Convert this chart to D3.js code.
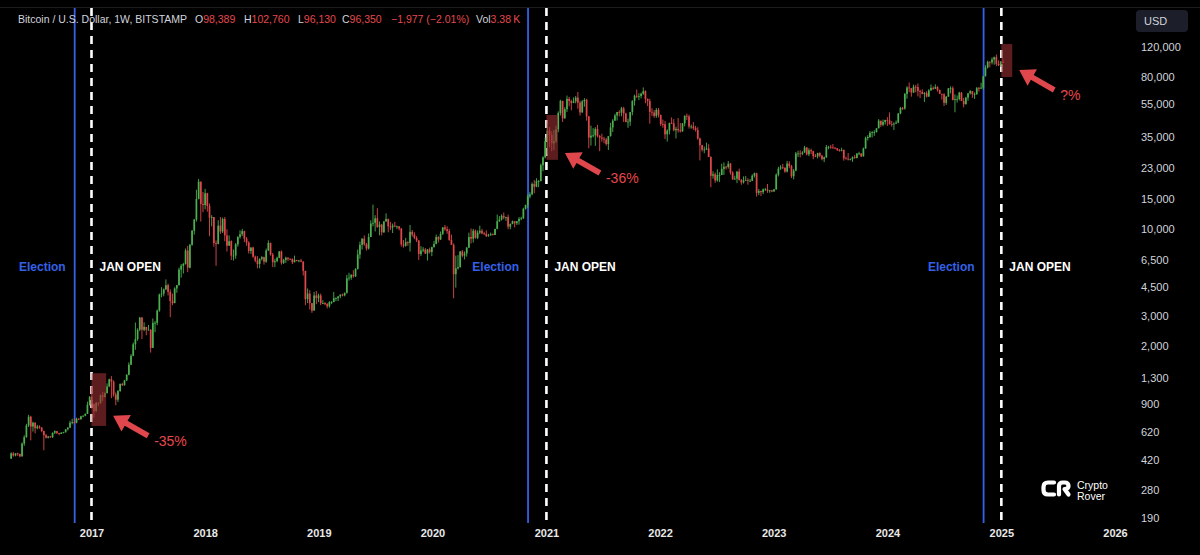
<!DOCTYPE html>
<html>
<head>
<meta charset="utf-8">
<title>Bitcoin weekly - election vs Jan open</title>
<script src="https://cdn.jsdelivr.net/npm/d3@7"></script>
<style>
  html, body { margin: 0; padding: 0; background: #000; }
  svg { display: block; }
</style>
</head>
<body>
<script>
// BTC/USD weekly candles (Bitstamp), first bar = week of 18 Apr 2016
const firstWeek = new Date(2016, 3, 18);
const firstOpen = 428;

const closes = [
  /*2016*/ 460,447,460,457,442,527,575,675,760,665,700,650,665,655,625,590,570,580,575,610,625,607,600,612,615,640,655,700,705,700,740,735,765,770,790,895,1000,
  /*2017*/ 905,820,920,915,1020,995,1050,1150,1270,1230,1030,960,1080,1190,1170,1250,1350,1550,1750,2050,2200,2500,2950,2500,2600,2500,2500,1950,2750,2750,3250,4050,4100,4350,4600,4200,3700,3600,4400,4600,5700,6000,6150,7400,5850,8000,9700,11300,15000,19000,14000,13800,
  /*2018*/ 16200,13600,11600,11700,8200,8100,10400,9600,11400,9100,7900,8400,6900,6900,8050,8900,9250,9650,8700,8250,7350,7700,6800,6450,6150,6600,6750,6350,7400,8200,7000,6300,6400,6700,7300,6250,6500,6700,6600,6580,6300,6500,6420,6450,6350,5600,3800,4100,3600,3250,4000,3850,
  /*2019*/ 4000,3600,3600,3550,3450,3650,3650,3850,3850,3950,4050,4000,4150,5050,5100,5300,5200,5750,7000,8000,8700,8050,7600,8900,10700,10800,11500,10200,10550,9500,11000,11400,10300,10150,10400,10300,10300,10000,8050,7900,8300,8220,9550,9200,8800,8500,7050,7400,7500,7100,7500,7250,
  /*2020*/ 7750,8100,8900,8600,9300,10150,9900,9650,8550,8000,5350,5800,5900,7300,6900,7100,7700,8900,8700,9700,8800,9450,9700,9350,9300,9000,9100,9250,9150,9950,11050,11300,11900,11650,11700,10250,10650,11050,10750,11050,11400,11500,13100,13800,15500,15950,18400,17700,19150,19150,23800,26500,33000,
  /*2021*/ 38200,36000,32100,33100,38900,48600,57400,45200,51200,59000,57300,55800,57000,60000,56000,49000,57000,58250,46400,34700,35650,35800,39000,35500,34700,34200,33800,31800,35400,39900,43800,47000,49300,48900,51800,48300,43000,43200,49200,57400,61500,61300,61300,63300,65500,59000,57200,49400,48900,46700,50800,47300,
  /*2022*/ 41800,41700,36300,38200,42400,42200,38400,39100,38400,37800,42200,46800,46400,40400,40400,39500,38500,34300,31300,29400,29500,29900,26600,20600,21000,19300,20800,20800,22600,23300,23200,24300,21500,19550,19800,21800,19400,18800,19300,19400,19200,19200,20600,21300,16300,16700,16450,17100,17100,16750,16850,16600,
  /*2023*/ 17100,20900,22700,23100,22950,21800,24300,23500,20450,22100,27900,27950,27800,28300,30300,27600,29200,28800,26900,26850,28100,27100,25850,26500,30500,30600,30300,30250,30000,29250,29050,29300,26100,26000,25850,25850,26550,26250,27950,27950,26850,29900,34500,35000,37050,37350,37450,39450,43800,41350,43000,44200,
  /*2024*/ 43950,41750,41600,42000,42600,48300,52100,51700,63100,68900,68300,64300,69600,69350,65600,64900,63100,63900,60800,66200,68500,67750,69300,66600,63200,62700,55850,60800,68150,68250,58100,58700,58900,64200,57300,54850,59950,63600,65600,62800,62900,68350,67950,68750,80400,90600,97900,97250,101100,104300,95200,93700,98389,
  /*2025*/ 96350
];
const highs = [
  /*2016*/ 467,468,462,464,458,535,590,690,780,770,710,705,680,675,660,628,600,585,585,612,630,612,610,614,618,642,658,720,740,745,750,745,770,775,795,935,1005,
  /*2017*/ 1150,910,930,925,1030,1065,1060,1200,1280,1325,1250,1060,1095,1200,1210,1260,1360,1600,1790,2100,2760,2550,2980,2980,2770,2600,2670,2520,2920,2820,3300,4100,4480,4400,4980,4700,4350,4100,4470,4620,5850,6150,6250,7600,7880,8100,9800,11400,17000,19700,19000,16500,
  /*2018*/ 17200,16300,14100,12000,11700,8500,11200,11700,11600,11700,9900,9100,8500,7500,8200,9000,9750,9950,9700,8900,8400,7750,7800,6900,6850,6650,6850,6800,7600,8500,8250,7150,6600,6800,7350,7400,6600,6800,6750,6650,6650,6900,6520,6500,6600,6400,5600,4400,4300,3600,4200,4250,
  /*2019*/ 4100,4100,3750,3650,3600,3700,3700,4200,3900,3950,4050,4100,4150,5300,5450,5350,5650,5800,7500,8350,8750,9100,8200,9350,11200,13880,12000,13200,11000,10650,11100,12300,11450,10950,10700,10950,10400,10300,10050,8550,8800,8400,10500,9800,9500,9000,8500,7850,7750,7650,7550,7700,
  /*2020*/ 7800,8450,9200,9000,9600,10180,10500,10300,9950,9200,8150,6900,6950,7350,7450,7300,7750,9450,10000,9950,9850,9750,10400,9950,9550,9750,9300,9450,9350,9950,12100,11850,12150,12450,11750,12100,10700,11150,11050,11050,11700,11750,13300,13850,15950,16450,18800,19400,19900,19400,24300,26900,34700,
  /*2021*/ 41950,40100,37800,38500,40900,49700,58300,57500,52600,61700,60600,58400,60100,61300,64800,57500,58000,59600,59000,46700,40900,39500,40000,41300,36000,36600,35100,34600,35500,42500,44700,48100,49300,50500,52900,52900,48800,45000,49200,57800,62500,67000,63700,64300,69000,66300,59300,59100,51900,50600,52000,52100,
  /*2022*/ 47600,44400,43500,38900,42600,45800,44700,40300,45400,42400,42300,47000,48200,47500,41500,42900,40800,40000,34700,31400,30700,32400,31700,26900,21900,21500,22500,21600,24300,24700,23600,25200,24500,21900,20600,21900,22700,19700,20400,20500,19900,19700,21000,21500,21450,17200,16800,17300,17450,18400,16950,16950,
  /*2023*/ 17200,21250,23300,23800,24250,23150,25250,25100,23900,22600,28500,29000,29200,28800,31000,30500,30000,29800,29000,27700,28200,28400,27400,26800,31400,31000,31400,31800,30400,30000,29700,30200,29500,26800,28100,26100,26800,27400,27950,28600,28000,30300,35200,35900,37950,37900,38400,39500,44700,43500,44400,44300,
  /*2024*/ 45900,49000,43600,42800,43900,48600,52800,52900,64000,70100,73800,68500,71700,71300,72800,66900,67200,64700,65500,67400,71900,70000,72000,70200,67000,63300,63800,61300,68400,70000,70000,62700,61800,65000,64900,59800,60600,64100,66500,65600,64400,69400,69500,73600,80500,93400,99600,98800,104000,105200,108300,99900,99000,
  /*2025*/ 102760
];
const lows = [
  /*2016*/ 428,440,442,445,436,440,510,570,660,550,620,605,640,645,615,480,565,565,570,568,600,600,590,600,605,612,630,650,685,690,695,725,730,755,765,790,885,
  /*2017*/ 850,750,815,880,910,940,990,1045,1140,980,1000,890,930,1070,1160,1165,1240,1340,1540,1740,1900,2150,2450,2200,2450,2320,2480,1830,1950,2420,2660,3200,3900,3950,4300,4000,2970,3500,3600,4150,4580,5100,5400,6100,5500,5800,7900,9200,11000,14900,11000,12500,
  /*2018*/ 13000,12600,9000,10300,7800,6000,8050,9300,9400,8400,7300,7900,6500,6450,6600,7800,8700,9000,8300,7900,7100,7050,6700,6300,5800,5800,6450,6100,6250,7350,6900,5900,5900,6300,6650,6100,6150,6250,6400,6500,6150,6300,6380,6300,6300,5250,3500,3600,3300,3150,3250,3550,
  /*2019*/ 3650,3500,3550,3500,3350,3380,3550,3650,3700,3700,3850,3950,3950,4100,4900,4950,5100,5150,5700,6600,7500,7900,7400,7500,8900,10300,9600,10100,9100,9100,9400,11000,9500,9800,9400,10200,9950,9750,7800,7700,7800,7900,7300,8950,8650,8300,6500,6850,7250,7050,6450,7100,
  /*2020*/ 6850,7700,8050,8250,8550,9150,9700,9300,8450,8000,3850,4450,5700,5850,6750,6550,6800,7650,8150,8250,8700,8650,9250,9250,9150,8900,8950,9100,9100,9150,9900,10950,11150,11350,11100,9900,9900,10600,10150,10500,10550,11200,11400,12950,13250,15100,15800,16200,17600,17600,19050,21900,26100,
  /*2021*/ 27700,30400,28800,29300,32300,37400,47000,43000,45000,49300,53300,50400,55600,55500,51500,47000,48800,53000,43800,30000,31100,34800,31000,34800,28800,32800,32100,31100,29300,35200,37500,43700,43900,46400,46500,43000,42800,39700,40800,47100,53800,59700,58000,59400,62300,55600,53400,42000,46700,45500,45500,45700,
  /*2022*/ 40700,39700,34000,32900,36300,41800,37900,34300,37200,37200,37600,40500,44200,39300,39200,38600,37700,33700,25400,28700,28000,29300,26600,17600,19800,18700,19000,18900,20800,20800,22400,22700,20900,19550,19550,18600,19300,18200,18500,19300,18200,18900,19200,20100,15500,15800,15600,16000,16750,16300,16300,16450,
  /*2023*/ 16550,17000,20400,22300,22550,21450,21550,22800,19950,19600,21900,26600,26500,27300,28200,27200,26900,27700,25800,26550,26100,26500,25400,24800,26300,29600,29800,29900,29600,28900,28650,28750,25300,25800,25400,25400,24900,26000,26100,27300,26550,26800,29800,33400,34500,34800,35600,37200,39400,40200,40600,41500,
  /*2024*/ 40750,41500,40300,38500,41900,42300,47800,50600,50900,59100,64600,60800,64100,64500,61000,59600,62800,56500,60200,60800,66000,66700,67600,65100,63200,58400,53500,54300,60600,63500,57800,49100,56100,57800,57200,52550,54600,57500,62700,59800,58900,62400,65200,67500,66800,80200,89400,90800,94500,94200,92300,92500,91200,
  /*2025*/ 96130
];

const yTicks = [120000, 80000, 55000, 35000, 23000, 15000, 10000, 6500, 4500, 3000, 2000, 1300, 900, 620, 420, 280, 190];
const yearTicks = [2017, 2018, 2019, 2020, 2021, 2022, 2023, 2024, 2025, 2026];
const electionDays = [new Date(2016, 10, 8), new Date(2020, 10, 3), new Date(2024, 10, 5)];
const janOpens = [new Date(2017, 0, 1), new Date(2021, 0, 1), new Date(2025, 0, 1)];
const drawdowns = [
  {start: new Date(2017, 0, 1), end: new Date(2017, 1, 17), top: 1380, bottom: 670, pointAt: 770, label: "-35%"},
  {start: new Date(2021, 0, 1), end: new Date(2021, 1, 7), top: 47300, bottom: 25600, pointAt: 28100, label: "-36%"},
  {start: new Date(2025, 0, 1), end: new Date(2025, 1, 5), top: 125000, bottom: 79600, pointAt: 87600, label: "?%"}
];
const headerItems = [
  [["Bitcoin / U.S. Dollar, 1W, BITSTAMP", 0]],
  [["O", 0], ["98,389", 1]],
  [["H", 0], ["102,760", 1]],
  [["L", 0], ["96,130", 1]],
  [["C", 0], ["96,350", 1]],
  [["\u22121,977 (\u22122.01%)", 1]],
  [["Vol", 0], ["3.38\u2009K", 1]]
];

const W = 1200, H = 555;
const font = "'Liberation Sans', Arial, sans-serif";
const up = "#4caf50", down = "#e0474c", blue = "#3560e8", txt = "#d1d4dc", redTxt = "#e5484d";

const svg = d3.select("body").append("svg")
    .attr("width", W).attr("height", H)
    .style("font-family", font);
svg.append("rect").attr("width", W).attr("height", H).attr("fill", "#000");
svg.append("line").attr("x1", 0).attr("x2", W).attr("y1", 7.5).attr("y2", 7.5)
    .attr("stroke", "#1c1c1c");

const x = d3.scaleTime()
    .domain([new Date(2017, 0, 1), new Date(2026, 0, 1)])
    .range([91.5, 1115]);
const y = d3.scaleLog()
    .domain([190, 120000])
    .range([518, 47]);

const bars = closes.map((c, i) => ({
  date: d3.timeDay.offset(firstWeek, 7 * i),
  open: i ? closes[i - 1] : firstOpen,
  high: highs[i],
  low: lows[i],
  close: c
}));
const col = d => d.close >= d.open ? up : down;

// event lines
const lineTop = 8, lineBottom = 523;
svg.append("g").selectAll("line").data(electionDays).join("line")
    .attr("x1", d => x(d)).attr("x2", d => x(d))
    .attr("y1", lineTop).attr("y2", lineBottom)
    .attr("stroke", blue).attr("stroke-width", 1.8);
svg.append("g").selectAll("line").data(janOpens).join("line")
    .attr("x1", d => x(d)).attr("x2", d => x(d))
    .attr("y1", lineTop).attr("y2", lineBottom)
    .attr("stroke", "#fff").attr("stroke-width", 2.6)
    .attr("stroke-dasharray", "8,6");

// candles
const candles = svg.append("g");
candles.selectAll("line").data(bars).join("line")
    .attr("x1", d => x(d.date)).attr("x2", d => x(d.date))
    .attr("y1", d => y(d.high)).attr("y2", d => y(d.low))
    .attr("stroke", col).attr("stroke-width", 0.9);
candles.selectAll("rect").data(bars).join("rect")
    .attr("x", d => x(d.date) - 0.85).attr("width", 1.7)
    .attr("y", d => y(Math.max(d.open, d.close)))
    .attr("height", d => Math.max(0.8, Math.abs(y(d.open) - y(d.close))))
    .attr("fill", col);

// labels next to the lines
svg.append("g").selectAll("text").data(electionDays).join("text")
    .attr("x", d => x(d) - 9).attr("y", 270.5)
    .attr("text-anchor", "end")
    .attr("fill", blue).attr("font-weight", "bold").attr("font-size", 12)
    .text("Election");
svg.append("g").selectAll("text").data(janOpens).join("text")
    .attr("x", d => x(d) + 8).attr("y", 270.5)
    .attr("fill", "#fff").attr("font-weight", "bold").attr("font-size", 12)
    .text("JAN OPEN");

// drawdown boxes + arrows
svg.append("g").selectAll("rect").data(drawdowns).join("rect")
    .attr("x", d => x(d.start)).attr("width", d => x(d.end) - x(d.start))
    .attr("y", d => y(d.top)).attr("height", d => y(d.bottom) - y(d.top))
    .attr("fill", "#962d31").attr("fill-opacity", 0.62);

function arrowPath(tx, ty, sx, sy) {
  const dx = tx - sx, dy = ty - sy, len = Math.hypot(dx, dy);
  const ux = dx / len, uy = dy / len, nx = -uy, ny = ux;
  const hl = 15, hw = 9.5, sw = 2.8;
  const bx = tx - ux * hl, by = ty - uy * hl;
  const p = [[sx + nx * sw, sy + ny * sw], [bx + nx * sw, by + ny * sw], [bx + nx * hw, by + ny * hw],
             [tx, ty], [bx - nx * hw, by - ny * hw], [bx - nx * sw, by - ny * sw], [sx - nx * sw, sy - ny * sw]];
  return "M" + p.map(q => q.join(",")).join("L") + "Z";
}
const arrows = svg.append("g");
drawdowns.forEach(d => {
  const tx = x(d.end) + 7, ty = y(d.pointAt);
  const sx = tx + 35, sy = ty + 20;
  arrows.append("path").attr("d", arrowPath(tx, ty, sx, sy)).attr("fill", down);
  arrows.append("text").attr("x", sx + 6).attr("y", sy + 10)
      .attr("fill", redTxt).attr("font-size", 14).text(d.label);
});

// price axis
const yAxis = svg.append("g").attr("transform", "translate(1141,0)")
    .call(d3.axisRight(y).tickValues(yTicks).tickFormat(d3.format(",")).tickSize(0).tickPadding(0));
yAxis.select(".domain").remove();
yAxis.attr("font-family", font).attr("font-size", 11);
yAxis.selectAll("text").attr("fill", txt);

// time axis
const xAxis = svg.append("g").attr("transform", "translate(0,529)")
    .call(d3.axisBottom(x).tickValues(yearTicks.map(v => new Date(v, 0, 1)))
      .tickFormat(d3.timeFormat("%Y")).tickSize(0).tickPadding(0));
xAxis.select(".domain").remove();
xAxis.attr("font-family", font).attr("font-size", 11).attr("font-weight", "bold");
xAxis.selectAll("text").attr("fill", "#e8e8e8");

// currency badge
svg.append("rect").attr("x", 1136).attr("y", 10).attr("width", 52).attr("height", 22)
    .attr("rx", 4).attr("fill", "#1c1f29");
svg.append("text").attr("x", 1144).attr("y", 25).attr("fill", txt).attr("font-size", 11).text("USD");

// header legend
const headerX = [18, 195, 244, 298, 342, 391, 476];
const header = svg.append("g").attr("font-size", 10.5);
headerItems.forEach((parts, i) => {
  const t = header.append("text").attr("x", headerX[i]).attr("y", 23);
  parts.forEach(([s, isVal]) => t.append("tspan").attr("fill", isVal ? redTxt : txt).text(s));
});

// logo
const logo = svg.append("g").attr("fill", "none").attr("stroke", "#fff").attr("stroke-linecap", "round");
logo.append("path").attr("d", "M1054,482.5 L1048,482.5 Q1043.5,482.5 1043.5,487 L1043.5,490 Q1043.5,494.5 1048,494.5 L1054,494.5")
    .attr("stroke-width", 4.2);
logo.append("path").attr("d", "M1059,494.5 L1059,486 Q1059,482.5 1063,482.5 L1064.5,482.5 Q1068.5,482.5 1068.5,486 Q1068.5,489 1064.5,489 L1068.5,494.5")
    .attr("stroke-width", 4.2).attr("stroke-linejoin", "round");
svg.append("text").attr("x", 1077).attr("y", 488.5).attr("fill", "#fff").attr("font-size", 10.5).text("Crypto");
svg.append("text").attr("x", 1077).attr("y", 499.5).attr("fill", "#fff").attr("font-size", 10.5).text("Rover");
</script>
</body>
</html>
